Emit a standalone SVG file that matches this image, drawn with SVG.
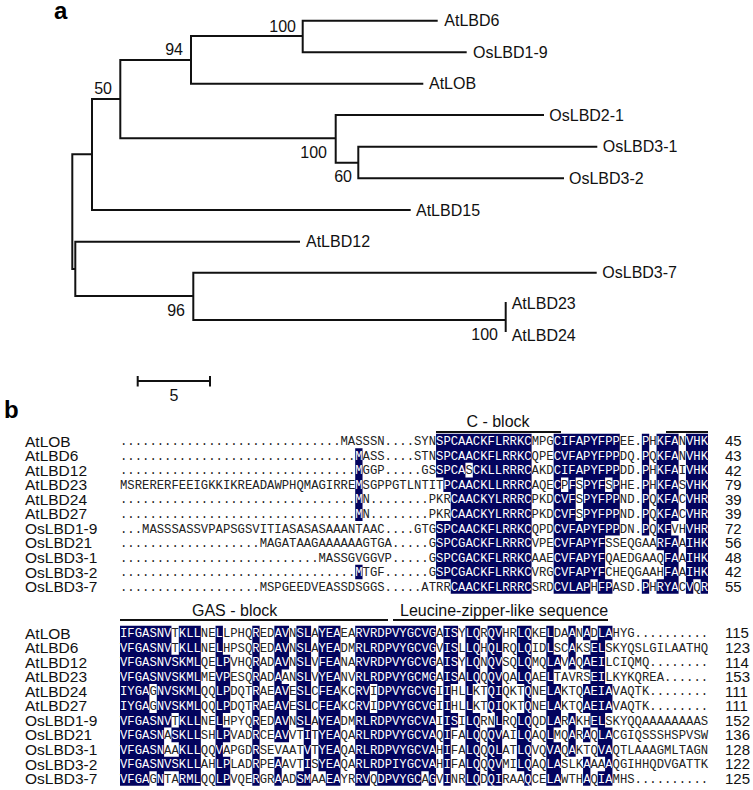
<svg xmlns="http://www.w3.org/2000/svg" width="753" height="790" viewBox="0 0 753 790">
<style>
.panel{font-family:"Liberation Sans",Arial,sans-serif;font-weight:bold;font-size:24px;fill:#000}
.lbl{font-family:"Liberation Sans",Arial,sans-serif;font-size:16px;fill:#111}
.nm{font-family:"Liberation Sans",Arial,sans-serif;font-size:15.5px;fill:#111}
.boot{font-family:"Liberation Sans",Arial,sans-serif;font-size:16px;fill:#111;text-anchor:end}
.br{fill:none;stroke:#111;stroke-width:2}
.num{font-family:"Liberation Sans",Arial,sans-serif;font-size:15px;fill:#111}
.seq{font-family:"Liberation Mono","Courier New",monospace;font-size:12.25px}
.bar{stroke:#111;stroke-width:2;fill:none}
.hl{fill:#03045e}
</style>
<defs>
<clipPath id="hl1" transform="translate(120,433.725) scale(7.35,14.55)">
<path d="M43 0h13v1h-13z M59 0h9v1h-9z M71 0h1v1h-1z M73 0h3v1h-3z M77 0h3v1h-3z
M32 1h1v1h-1z M43 1h13v1h-13z M59 1h9v1h-9z M71 1h1v1h-1z M73 1h3v1h-3z M77 1h3v1h-3z
M32 2h1v1h-1z M43 2h4v1h-4z M48 2h8v1h-8z M59 2h9v1h-9z M71 2h1v1h-1z M73 2h3v1h-3z M77 2h3v1h-3z
M32 3h1v1h-1z M44 3h12v1h-12z M59 3h1v1h-1z M61 3h1v1h-1z M63 3h3v1h-3z M67 3h1v1h-1z M71 3h1v1h-1z M73 3h3v1h-3z M77 3h3v1h-3z
M32 4h1v2h-1z M45 4h11v2h-11z M59 4h3v2h-3z M63 4h5v2h-5z M71 4h1v2h-1z M73 4h3v2h-3z M77 4h3v2h-3z
M43 6h13v1h-13z M59 6h9v1h-9z M71 6h1v1h-1z M73 6h2v1h-2z M77 6h3v1h-3z
M43 7h13v1h-13z M59 7h7v1h-7z M73 7h3v1h-3z M77 7h3v1h-3z
M43 8h13v1h-13z M59 8h7v1h-7z M74 8h2v1h-2z M77 8h3v1h-3z
M32 9h1v1h-1z M43 9h13v1h-13z M59 9h7v1h-7z M74 9h2v1h-2z M77 9h3v1h-3z
M45 10h11v1h-11z M59 10h5v1h-5z M65 10h2v1h-2z M71 10h1v1h-1z M73 10h3v1h-3z M77 10h1v1h-1z M79 10h1v1h-1z"/>
</clipPath>
<clipPath id="hl2" transform="translate(120,625.725) scale(7.35,14.55)">
<path d="M0 0h7v1h-7z M8 0h3v1h-3z M13 0h1v1h-1z M18 0h1v1h-1z M21 0h2v1h-2z M24 0h2v1h-2z M27 0h3v1h-3z M32 0h11v1h-11z M44 0h2v1h-2z M47 0h2v1h-2z M50 0h2v1h-2z M54 0h2v1h-2z M58 0h1v1h-1z M61 0h1v1h-1z M63 0h1v1h-1z M65 0h2v1h-2z
M0 1h7v1h-7z M8 1h3v1h-3z M13 1h1v1h-1z M18 1h1v1h-1z M21 1h2v1h-2z M24 1h2v1h-2z M27 1h3v1h-3z M32 1h11v1h-11z M44 1h2v1h-2z M47 1h2v1h-2z M50 1h2v1h-2z M54 1h2v1h-2z M58 1h1v1h-1z M61 1h1v1h-1z M64 1h2v1h-2z
M0 2h11v1h-11z M13 2h2v1h-2z M18 2h1v1h-1z M21 2h2v1h-2z M24 2h2v1h-2z M27 2h3v1h-3z M32 2h11v1h-11z M44 2h2v1h-2z M47 2h2v1h-2z M50 2h2v1h-2z M54 2h2v1h-2z M58 2h2v1h-2z M61 2h1v1h-1z M63 2h3v1h-3z
M0 3h11v1h-11z M13 3h2v1h-2z M18 3h1v1h-1z M21 3h1v1h-1z M24 3h2v1h-2z M27 3h3v1h-3z M32 3h11v1h-11z M44 3h2v1h-2z M47 3h2v1h-2z M50 3h2v1h-2z M54 3h2v1h-2z M58 3h1v1h-1z M64 3h2v1h-2z
M0 4h4v2h-4z M5 4h6v2h-6z M13 4h2v2h-2z M18 4h1v2h-1z M21 4h2v2h-2z M24 4h2v2h-2z M27 4h3v2h-3z M32 4h2v2h-2z M35 4h8v2h-8z M44 4h1v2h-1z M47 4h1v2h-1z M50 4h2v2h-2z M55 4h1v2h-1z M58 4h2v2h-2z M63 4h4v2h-4z
M0 6h7v1h-7z M8 6h3v1h-3z M13 6h1v1h-1z M18 6h1v1h-1z M21 6h2v1h-2z M24 6h2v1h-2z M27 6h3v1h-3z M32 6h11v1h-11z M44 6h2v1h-2z M47 6h2v1h-2z M51 6h1v1h-1z M54 6h2v1h-2z M58 6h2v1h-2z M61 6h1v1h-1z M64 6h2v1h-2z
M0 7h6v1h-6z M7 7h4v1h-4z M13 7h2v1h-2z M18 7h1v1h-1z M21 7h2v1h-2z M25 7h1v1h-1z M27 7h3v1h-3z M32 7h11v1h-11z M44 7h1v1h-1z M47 7h2v1h-2z M50 7h2v1h-2z M54 7h2v1h-2z M58 7h1v1h-1z M61 7h1v1h-1z M63 7h1v1h-1z M65 7h2v1h-2z
M0 8h6v1h-6z M8 8h3v1h-3z M13 8h1v1h-1z M18 8h1v1h-1z M25 8h1v1h-1z M27 8h3v1h-3z M32 8h11v1h-11z M44 8h1v1h-1z M47 8h2v1h-2z M50 8h2v1h-2z M54 8h2v1h-2z M58 8h2v1h-2z M61 8h1v1h-1z M65 8h2v1h-2z
M0 9h11v1h-11z M13 9h2v1h-2z M18 9h1v1h-1z M21 9h1v1h-1z M25 9h1v1h-1z M27 9h3v1h-3z M32 9h11v1h-11z M44 9h1v1h-1z M47 9h2v1h-2z M50 9h2v1h-2z M54 9h2v1h-2z M58 9h2v1h-2z M63 9h1v1h-1z M66 9h1v1h-1z
M0 10h4v1h-4z M5 10h1v1h-1z M8 10h3v1h-3z M13 10h2v1h-2z M18 10h1v1h-1z M21 10h1v1h-1z M24 10h2v1h-2z M28 10h2v1h-2z M32 10h2v1h-2z M35 10h6v1h-6z M42 10h1v1h-1z M44 10h1v1h-1z M47 10h2v1h-2z M50 10h2v1h-2z M55 10h1v1h-1z M58 10h2v1h-2z M63 10h1v1h-1z M65 10h2v1h-2z"/>
</clipPath>
<g id="seq1" class="seq">
<text x="120" y="445.2">..............................<tspan x="340.5">MASSSN....SYNSPCAACKFLRRKCMPGCIFAPYFPPEE.PHKFANVHK</tspan></text>
<text x="120" y="459.75">................................<tspan x="355.2">MASS....STNSPCAACKFLRRKCQPECVFAPYFPPDQ.PQKFANVHK</tspan></text>
<text x="120" y="474.3">................................<tspan x="355.2">MGGP.....GSSPCASCKLLRRRCAKDCIFAPYFPPDD.PHKFAIVHK</tspan></text>
<text x="120" y="488.85">MSRERERFEEIGKKIKREADAWPHQMAGIRREMSGPPGTLNTITPCAACKLLRRRCAQECPFSPYFSPHE.PHKFASVHK</text>
<text x="120" y="503.4">................................<tspan x="355.2">MN........PKRCAACKYLRRRCPKDCVFSPYFPPND.PQKFACVHR</tspan></text>
<text x="120" y="517.95">................................<tspan x="355.2">MN........PKRCAACKYLRRRCPKDCVFSPYFPPND.PQKFACVHR</tspan></text>
<text x="120" y="532.5">...<tspan x="142.05">MASSSASSVPAPSGSVITIASASASAAANTAAC....GTGSPCAACKFLRRKCQPDCVFAPYFPPDN.PQKFVHVHR</tspan></text>
<text x="120" y="547.05">...................<tspan x="259.65">MAGATAAGAAAAAAGTGA.....GSPCGACKFLRRRCVPECVFAPYFSSEQGAARFAAIHK</tspan></text>
<text x="120" y="561.6">...........................<tspan x="318.45">MASSGVGGVP.....GSPCGACKFLRRKCAAECVFAPYFQAEDGAAQFAAIHK</tspan></text>
<text x="120" y="576.15">................................<tspan x="355.2">MTGF......GSPCGACKFLRRKCVRGCVFAPYFCHEQGAAHFAAIHK</tspan></text>
<text x="120" y="590.7">...................<tspan x="259.65">MSPGEEDVEASSDSGGS.....ATRRCAACKFLRRRCSRDCVLAPHFPASD.PHRYACVQR</tspan></text>
</g>
<g id="seq2" class="seq">
<text x="120" y="637.2">IFGASNVTKLLNELLPHQREDAVNSLAYEAEARVRDPVYGCVGAISYLQRQVHRLQKELDAANADLAHYG..........</text>
<text x="120" y="651.75">VFGASNVTKLLNELHPSQREDAVNSLAYEADMRLRDPVYGCVGVISLLQHQLRQLQIDLSCAKSELSKYQSLGILAATHQ</text>
<text x="120" y="666.3">VFGASNVSKMLQELPVHQRADAVNSLVFEANARVRDPVYGCVGAISYLQNQVSQLQMQLAVAQAEILCIQMQ........</text>
<text x="120" y="680.85">VFGASNVSKMLMEVPESQRADAANSLVYEANVRLRDPVYGCMGAISALQQQVQALQAELTAVRSEILKYKQREA......</text>
<text x="120" y="695.4">IYGAGNVSKMLQQLPDQTRAEAVESLCFEAKCRVIDPVYGCVGIIHLLKTQIQKTQNELAKTQAEIAVAQTK........</text>
<text x="120" y="709.95">IYGAGNVSKMLQQLPDQTRAEAVESLCFEAKCRVIDPVYGCVGIIHLLKTQIQKTQNELAKTQAEIAVAQTK........</text>
<text x="120" y="724.5">VFGASNVTKLLNELHPYQREDAVNSLAYEADMRLRDPVYGCVAIISILQRNLRQLQQDLARAKHELSKYQQAAAAAAAAS</text>
<text x="120" y="739.05">VFGASNASKLLSHLPVADRCEAVVTITYEAQARLRDPVYGCVAQIFALQQQVAILQAQLMQARAQLACGIQSSSHSPVSW</text>
<text x="120" y="753.6">VFGASNAAKLLQQVAPGDRSEVAATVTYEAQARLRDPVYGCVAHIFALQQQLATLQVQVAQAKTQVAQTLAAAGMLTAGN</text>
<text x="120" y="768.15">VFGASNVSKLLAHLPLADRPEAAVTISYEAQARLRDPIYGCVAHIFALQQQVMILQAQLASLKAAAAQGIHHQDVGATTK</text>
<text x="120" y="782.7">VFGAGNTARMLQQLPVQERGRAADSMAAEAYRRVQDPVYGCAGVINRLQDQIRAAQCELAWTHAQIAMHS..........</text>
</g>
</defs>
<rect width="753" height="790" fill="#fff"/>

<!-- Panel a: tree -->
<text class="panel" x="54" y="19">a</text>
<g id="connectors">
<path class="br" d="M437.7 20.7H302.7V52.3H466.7"/>
<path class="br" d="M302.7 36H191V83.7H423.3"/>
<path class="br" d="M191 60H120.3V138.3H335.7"/>
<path class="br" d="M120.3 99H92V210H410.7"/>
<path class="br" d="M544 115H335.7V162.7H358.3"/>
<path class="br" d="M597.3 146.7H358.3V178.3H564"/>
<path class="br" d="M92 154.3H72.3V269H75.3"/>
<path class="br" d="M300 241.7H75.3V296H193.3"/>
<path class="br" d="M596.7 272.7H193.3V320H505.7"/>
<path class="br" d="M505.7 302V332"/>
</g>
<g id="node-AtLBD6"><text class="lbl" x="444.3" y="26.4">AtLBD6</text></g>
<g id="node-OsLBD1-9"><text class="lbl" x="473" y="58">OsLBD1-9</text></g>
<g id="node-AtLOB"><text class="lbl" x="429" y="89.4">AtLOB</text></g>
<g id="node-OsLBD2-1"><text class="lbl" x="549.3" y="120.7">OsLBD2-1</text></g>
<g id="node-OsLBD3-1"><text class="lbl" x="602.7" y="152.4">OsLBD3-1</text></g>
<g id="node-OsLBD3-2"><text class="lbl" x="569" y="184">OsLBD3-2</text></g>
<g id="node-AtLBD15"><text class="lbl" x="416" y="215.7">AtLBD15</text></g>
<g id="node-AtLBD12"><text class="lbl" x="306" y="247.4">AtLBD12</text></g>
<g id="node-OsLBD3-7"><text class="lbl" x="602.3" y="278.4">OsLBD3-7</text></g>
<g id="node-AtLBD23"><text class="lbl" x="511.7" y="309">AtLBD23</text></g>
<g id="node-AtLBD24"><text class="lbl" x="511.7" y="340.7">AtLBD24</text></g>
<g id="bootstrap">
<text class="boot" x="296" y="31.5">100</text>
<text class="boot" x="183" y="55">94</text>
<text class="boot" x="112" y="94">50</text>
<text class="boot" x="327" y="158.3">100</text>
<text class="boot" x="352" y="181.7">60</text>
<text class="boot" x="185" y="316">96</text>
<text class="boot" x="498" y="340">100</text>
</g>
<g id="scalebar">
<path class="bar" d="M137.7 381H210M137.7 376V386.5M210 376V386.5"/>
<text class="lbl" x="174" y="401" text-anchor="middle">5</text>
</g>

<!-- Panel b: alignment -->
<text class="panel" x="4" y="418">b</text>
<g id="block1">
<text class="lbl" x="498" y="427" text-anchor="middle">C - block</text>
<path class="bar" d="M436 432H561M666 432H708"/>
<text class="nm" x="25" y="446.6"><tspan x="25">AtLOB</tspan><tspan x="25" dy="14.55">AtLBD6</tspan><tspan x="25" dy="14.55">AtLBD12</tspan><tspan x="25" dy="14.55">AtLBD23</tspan><tspan x="25" dy="14.55">AtLBD24</tspan><tspan x="25" dy="14.55">AtLBD27</tspan><tspan x="25" dy="14.55">OsLBD1-9</tspan><tspan x="25" dy="14.55">OsLBD21</tspan><tspan x="25" dy="14.55">OsLBD3-1</tspan><tspan x="25" dy="14.55">OsLBD3-2</tspan><tspan x="25" dy="14.55">OsLBD3-7</tspan></text>
<use href="#seq1" fill="#222"/>
<rect class="hl" x="120" y="430" width="590" height="165" clip-path="url(#hl1)"/>
<use href="#seq1" fill="#fff" clip-path="url(#hl1)"/>
<text class="num" x="725" y="446.4"><tspan x="725">45</tspan><tspan x="725" dy="14.55">43</tspan><tspan x="725" dy="14.55">42</tspan><tspan x="725" dy="14.55">79</tspan><tspan x="725" dy="14.55">39</tspan><tspan x="725" dy="14.55">39</tspan><tspan x="725" dy="14.55">72</tspan><tspan x="725" dy="14.55">56</tspan><tspan x="725" dy="14.55">48</tspan><tspan x="725" dy="14.55">42</tspan><tspan x="725" dy="14.55">55</tspan></text>
</g>
<g id="block2">
<text class="lbl" x="192" y="615.5">GAS - block</text>
<text class="lbl" x="400" y="615.5">Leucine-zipper-like sequence</text>
<path class="bar" d="M120 620H388M393 620H608"/>
<text class="nm" x="25" y="638.6"><tspan x="25">AtLOB</tspan><tspan x="25" dy="14.55">AtLBD6</tspan><tspan x="25" dy="14.55">AtLBD12</tspan><tspan x="25" dy="14.55">AtLBD23</tspan><tspan x="25" dy="14.55">AtLBD24</tspan><tspan x="25" dy="14.55">AtLBD27</tspan><tspan x="25" dy="14.55">OsLBD1-9</tspan><tspan x="25" dy="14.55">OsLBD21</tspan><tspan x="25" dy="14.55">OsLBD3-1</tspan><tspan x="25" dy="14.55">OsLBD3-2</tspan><tspan x="25" dy="14.55">OsLBD3-7</tspan></text>
<use href="#seq2" fill="#222"/>
<rect class="hl" x="120" y="622" width="590" height="168" clip-path="url(#hl2)"/>
<use href="#seq2" fill="#fff" clip-path="url(#hl2)"/>
<text class="num" x="725" y="638.4"><tspan x="725">115</tspan><tspan x="725" dy="14.55">123</tspan><tspan x="725" dy="14.55">114</tspan><tspan x="725" dy="14.55">153</tspan><tspan x="725" dy="14.55">111</tspan><tspan x="725" dy="14.55">111</tspan><tspan x="725" dy="14.55">152</tspan><tspan x="725" dy="14.55">136</tspan><tspan x="725" dy="14.55">128</tspan><tspan x="725" dy="14.55">122</tspan><tspan x="725" dy="14.55">125</tspan></text>
</g>
</svg>
